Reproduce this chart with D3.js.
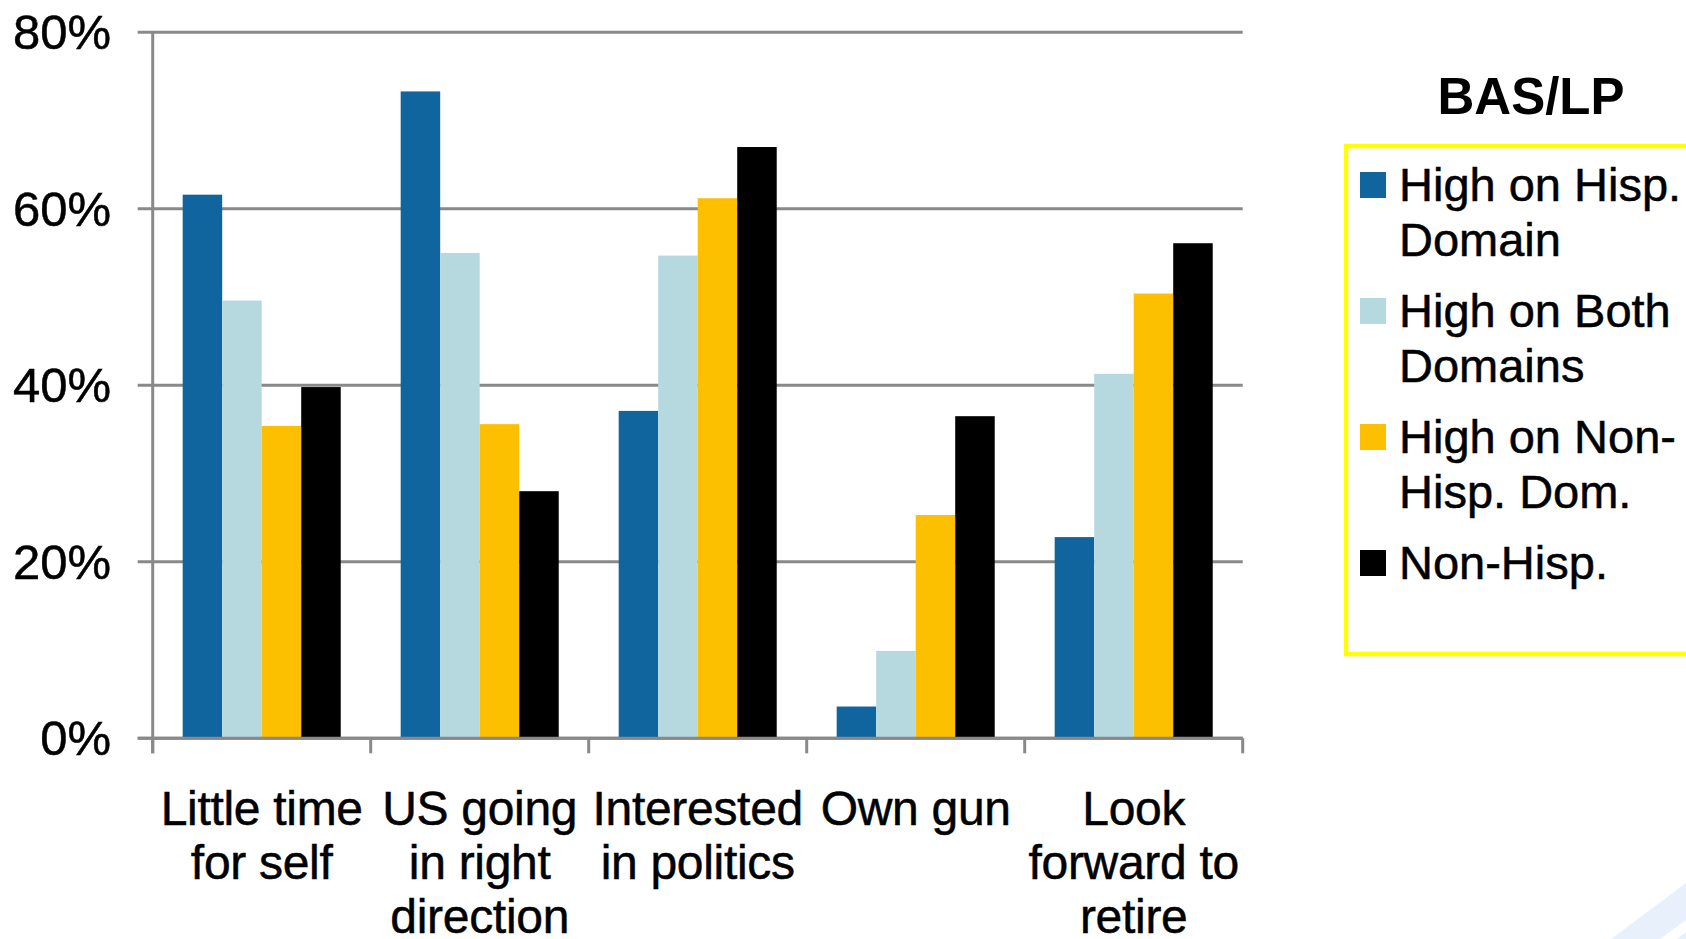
<!DOCTYPE html>
<html>
<head>
<meta charset="utf-8">
<script src="https://cdn.jsdelivr.net/npm/d3@7"></script>
<style>
  html, body { margin: 0; padding: 0; background: #ffffff; }
  svg { display: block; }
  text { font-family: "Liberation Sans", Arial, sans-serif; fill: #000; }
  .heavy { stroke: #000; stroke-width: 0.5px; }
</style>
</head>
<body>
<svg id="chart" width="1686" height="939"></svg>
<script>
// ---- Data ----
const categories = [
  ["Little time", "for self"],
  ["US going", "in right", "direction"],
  ["Interested", "in politics"],
  ["Own gun"],
  ["Look", "forward to", "retire"]
];
const categoryKeys = ["Little time for self", "US going in right direction", "Interested in politics", "Own gun", "Look forward to retire"];
const seriesNames = [
  ["High on Hisp.", "Domain"],
  ["High on Both", "Domains"],
  ["High on Non-", "Hisp. Dom."],
  ["Non-Hisp."]
];
const seriesKeys = ["hispDom", "both", "nonHispDom", "nonHisp"];
const hispDom    = [61.6, 73.3, 37.1, 3.6, 22.8];
const both       = [49.6, 55.0, 54.7, 9.9, 41.3];
const nonHispDom = [35.4, 35.6, 61.2, 25.3, 50.4];
const nonHisp    = [39.8, 28.0, 67.0, 36.5, 56.1];
const seriesValues = [hispDom, both, nonHispDom, nonHisp];
const seriesColors = ["#10659f", "#b6d9df", "#fdc000", "#000000"];
const yTicks = [0, 20, 40, 60, 80];
const legendTitle = "BAS/LP";

// ---- Layout ----
const svg = d3.select("#chart");
const plotLeft = 152.7, plotRight = 1242.7, plotTop = 32.3, plotBottom = 738.3;
const gridColor = "#898989";

// faint slide decoration bottom-right
svg.append("polygon").attr("points", "1611,939 1686,883 1686,920 1660,939").attr("fill", "#e8f1fb");
svg.append("polygon").attr("points", "1677,939 1686,932 1686,939").attr("fill", "#e8f1fb");

const y = d3.scaleLinear().domain([0, 80]).range([plotBottom, plotTop]);
const x0 = d3.scaleBand().domain(categoryKeys).range([plotLeft, plotRight])
  .paddingInner(0.275).paddingOuter(0.1375);
const x1 = d3.scaleBand().domain(seriesKeys).range([0, x0.bandwidth()]);

// gridlines
svg.append("g").selectAll("line").data(yTicks).join("line")
  .attr("x1", plotLeft - 15).attr("x2", plotRight)
  .attr("y1", d => y(d)).attr("y2", d => y(d))
  .attr("stroke", gridColor).attr("stroke-width", 3);

// y tick labels
svg.append("g").selectAll("text").data(yTicks).join("text")
  .attr("class", "heavy")
  .attr("x", 111).attr("y", d => y(d) + 17)
  .attr("text-anchor", "end")
  .style("font-size", "49px")
  .text(d => d + "%");

// bars
const rows = categoryKeys.map((c, i) => ({ cat: c, vals: seriesKeys.map((k, j) => ({ key: k, v: seriesValues[j][i], color: seriesColors[j] })) }));
const groups = svg.append("g").selectAll("g").data(rows).join("g")
  .attr("transform", d => `translate(${x0(d.cat)},0)`);
groups.selectAll("rect").data(d => d.vals).join("rect")
  .attr("x", d => x1(d.key))
  .attr("width", x1.bandwidth())
  .attr("y", d => y(d.v))
  .attr("height", d => y(0) - y(d.v))
  .attr("fill", d => d.color);

// axes lines
svg.append("line").attr("x1", plotLeft).attr("x2", plotLeft).attr("y1", plotTop).attr("y2", plotBottom + 15)
  .attr("stroke", gridColor).attr("stroke-width", 3);
svg.append("line").attr("x1", plotLeft - 15).attr("x2", plotRight).attr("y1", plotBottom).attr("y2", plotBottom)
  .attr("stroke", gridColor).attr("stroke-width", 3);
const boundaries = categoryKeys.map(c => x0(c) - x0.step() * x0.paddingOuter()).concat([plotRight]);
svg.append("g").selectAll("line").data(boundaries).join("line")
  .attr("x1", d => d).attr("x2", d => d)
  .attr("y1", plotBottom).attr("y2", plotBottom + 15)
  .attr("stroke", gridColor).attr("stroke-width", 3);

// x labels
const xl = svg.append("g").selectAll("text").data(categories).join("text")
  .attr("class", "heavy")
  .attr("text-anchor", "middle")
  .style("font-size", "48px")
  .style("letter-spacing", "-0.3px");
xl.each(function(lines, i) {
  const cx = x0(categoryKeys[i]) + x0.bandwidth() / 2;
  d3.select(this).selectAll("tspan").data(lines).join("tspan")
    .attr("x", cx).attr("y", (d, k) => 825 + k * 54)
    .text(d => d);
});

// legend
svg.append("text").attr("x", 1531).attr("y", 114).attr("text-anchor", "middle")
  .style("font-size", "51px").style("font-weight", "bold").text(legendTitle);
svg.append("rect").attr("x", 1346).attr("y", 146).attr("width", 400).attr("height", 508)
  .attr("fill", "none").attr("stroke", "#ffff00").attr("stroke-width", 4.5);
const lg = svg.append("g").selectAll("g").data(seriesNames).join("g")
  .attr("transform", (d, i) => `translate(0,${194 + i * 126})`);
lg.append("rect").attr("x", 1360).attr("y", -22).attr("width", 26).attr("height", 26)
  .attr("fill", (d, i) => seriesColors[i]);
lg.append("text").attr("class", "heavy").style("font-size", "47px")
  .each(function(lines) {
    d3.select(this).selectAll("tspan").data(lines).join("tspan")
      .attr("x", 1399).attr("y", (d, k) => 7 + k * 55).text(d => d);
  });
</script>
</body>
</html>
